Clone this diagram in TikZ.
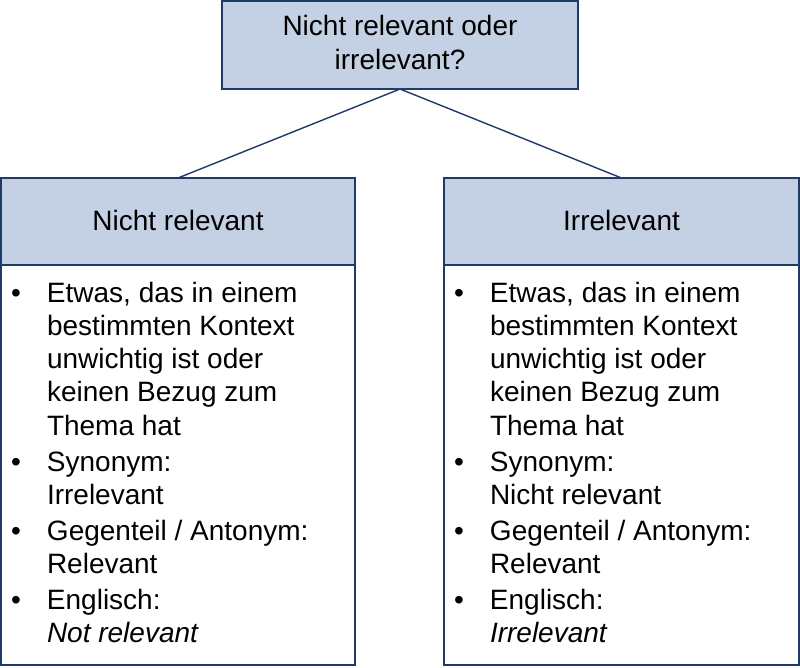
\documentclass[tikz,border=0pt]{standalone}
\usepackage{fontspec}
\setmainfont{Liberation Sans}
\definecolor{boxfill}{HTML}{C4D1E4}
\definecolor{boxline}{HTML}{1F3A68}
\begin{document}
\begin{tikzpicture}[x=1pt,y=-1pt,
  frame/.style={draw=boxline,line width=1.4pt,inner sep=0pt,outer sep=0pt},
  headbox/.style={frame,fill=boxfill},
  bodybox/.style={frame,fill=white},
  txt/.style={inner sep=0pt,outer sep=0pt,font=\fontsize{28}{33.3}\selectfont},
  conn/.style={draw=boxline,line width=1.4pt}]
\useasboundingbox (0,0) rectangle (800,667);
% boxes
\node[headbox,minimum width=356pt,minimum height=88pt] (top) at (400,45) {};
\node[headbox,minimum width=354pt,minimum height=87pt] (lhead) at (178,221.5) {};
\node[bodybox,minimum width=354pt,minimum height=400pt] (lbody) at (178,465) {};
\node[headbox,minimum width=355pt,minimum height=87pt] (rhead) at (621.5,221.5) {};
\node[bodybox,minimum width=355pt,minimum height=400pt] (rbody) at (621.5,465) {};
% connectors
\draw[conn] (top.south) -- (lhead.north);
\draw[conn] (top.south) -- (rhead.north);
% titles
\node[txt,anchor=base,font=\fontsize{28}{34}\selectfont] (toptxt) at (400,35)
  {\begin{tabular}[t]{@{}c@{}}Nicht relevant oder\\irrelevant?\end{tabular}};
\node[txt,anchor=base] (lheadtxt) at (178,230) {Nicht relevant};
\node[txt,anchor=base] (rheadtxt) at (621.5,230) {Irrelevant};
% lists
\node[txt,anchor=base west] (llist) at (11,302)
  {\begin{tabular}[t]{@{}p{36pt}@{}l@{}}
  \textbullet & Etwas, das in einem\\
   & bestimmten Kontext\\
   & unwichtig ist oder\\
   & keinen Bezug zum\\
   & Thema hat\\[2.5pt]
  \textbullet & Synonym:\\
   & Irrelevant\\[2.5pt]
  \textbullet & Gegenteil / Antonym:\\
   & Relevant\\[2.5pt]
  \textbullet & Englisch:\\
   & \textit{Not relevant}
  \end{tabular}};
\node[txt,anchor=base west] (rlist) at (454,302)
  {\begin{tabular}[t]{@{}p{36pt}@{}l@{}}
  \textbullet & Etwas, das in einem\\
   & bestimmten Kontext\\
   & unwichtig ist oder\\
   & keinen Bezug zum\\
   & Thema hat\\[2.5pt]
  \textbullet & Synonym:\\
   & Nicht relevant\\[2.5pt]
  \textbullet & Gegenteil / Antonym:\\
   & Relevant\\[2.5pt]
  \textbullet & Englisch:\\
   & \textit{Irrelevant}
  \end{tabular}};
\end{tikzpicture}
\end{document}
